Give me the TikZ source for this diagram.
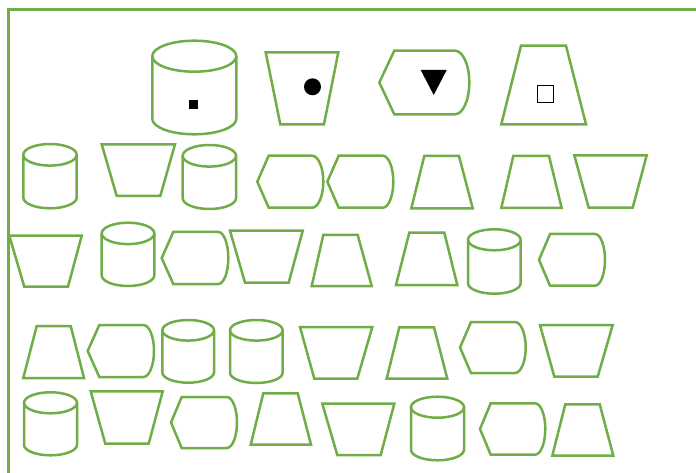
\documentclass[tikz,border=0pt]{standalone}
\definecolor{shgreen}{RGB}{112,173,71}
\tikzset{shape line/.style={draw=shgreen, line width=2.5pt, line join=miter}}
% cylinder: x1 x2 ytop ybottom ry
\newcommand\cylsh[5]{%
  \pgfmathsetmacro\cx{(#1+#2)/2}\pgfmathsetmacro\rx{(#2-#1)/2}%
  \pgfmathsetmacro\ya{#3+#5}\pgfmathsetmacro\yb{#4-#5}%
  \draw[shape line] (\cx,\ya) ellipse [x radius=\rx pt, y radius=#5pt];
  \draw[shape line] (#1,\ya) -- (#1,\yb) arc[start angle=180, end angle=360, x radius=\rx pt, y radius=#5pt] -- (#2,\ya);}
% display: xleft xcorner xstraight xright ytop ybottom
\newcommand\dispsh[6]{%
  \pgfmathsetmacro\ym{(#5+#6)/2}\pgfmathsetmacro\rx{#4-#3}\pgfmathsetmacro\ry{(#6-#5)/2}%
  \draw[shape line] (#1,\ym) -- (#2,#5) -- (#3,#5) arc[start angle=90, end angle=-90, x radius=\rx pt, y radius=\ry pt] -- (#2,#6) -- cycle;}
% trapezoid: top x1 x2, ytop, bottom x1 x2, ybottom
\newcommand\trapsh[6]{%
  \draw[shape line] (#1,#3) -- (#2,#3) -- (#5,#6) -- (#4,#6) -- cycle;}
\begin{document}
\begin{tikzpicture}[x=1pt,y=-1pt]
\useasboundingbox (0,0) rectangle (696,473);
\fill[white] (0,0) rectangle (696,473);
% frame
\draw[draw=shgreen, line width=2.4pt] (8.3,480) -- (8.3,9.5) -- (700,9.5);
% row 1
\cylsh{152.3}{236.3}{40.7}{134.3}{15.5}
\fill[black] (189,100) rectangle (198,109);
\trapsh{265.7}{338.3}{52.3}{280.3}{324}{124.3}
\fill[black] (312.5,86.8) circle[radius=8.5pt];
\dispsh{379.3}{394.3}{455}{469.3}{50.7}{114.3}
\fill[black] (420.7,70) -- (446.7,70) -- (433.7,95) -- cycle;
\trapsh{521}{566}{45.7}{501.3}{586}{124.3}
\draw[black, line width=1.4pt] (537.4,85.4) rectangle (553.6,102.3);
% row 2
\cylsh{23.3}{76.7}{144}{208.3}{10.8}
\trapsh{101.7}{175}{144.3}{116.7}{160.3}{196}
\cylsh{182.7}{236}{145}{209}{10.8}
\dispsh{257.3}{268.7}{312}{323.3}{155.7}{207.7}
\dispsh{327.3}{338.7}{382.7}{393.3}{155.7}{207.7}
\trapsh{424.3}{459}{156}{411.3}{472.7}{208.3}
\trapsh{513.3}{549}{156}{501.3}{561.7}{208}
\trapsh{574.3}{646.7}{155.3}{588.7}{632.7}{207.7}
% row 3
\trapsh{9.3}{81.7}{235.7}{24.3}{68}{286.7}
\cylsh{101.7}{154.3}{222.7}{286}{10.7}
\dispsh{161.7}{173.3}{218.3}{228.3}{232}{284}
\trapsh{230}{302.7}{230.7}{245}{288.7}{282.7}
\trapsh{323.3}{357.7}{235}{311.7}{371.7}{286}
\trapsh{409.3}{444.3}{232.7}{396}{457.3}{285}
\cylsh{468}{520.7}{229.3}{293.7}{10.5}
\dispsh{539}{550}{595}{605}{234}{285.7}
% row 4
\trapsh{36.7}{70.7}{326}{23.3}{84}{378}
\dispsh{87.7}{99.3}{143.3}{154}{325}{377}
\cylsh{162.3}{214}{320}{382.7}{10.3}
\cylsh{230}{282.7}{320}{383}{10.3}
\trapsh{300}{372.3}{327}{314.3}{357.3}{378.7}
\trapsh{399.3}{434}{327.3}{386.7}{447.3}{378.7}
\dispsh{460}{471}{515}{525.7}{322}{373}
\trapsh{540}{612.7}{325}{554.3}{597.7}{376.7}
% row 5
\cylsh{24}{77}{392.3}{455.3}{10.5}
\trapsh{90.7}{162.7}{391.3}{105.3}{148.7}{443.7}
\dispsh{171}{181.7}{226.7}{237}{397}{448}
\trapsh{263.3}{297.7}{393.3}{250.7}{311}{444.7}
\trapsh{322.3}{394.3}{403.7}{337.3}{380.7}{455}
\cylsh{411}{464}{396.7}{460.3}{10.5}
\dispsh{480}{490.7}{535}{545.3}{403.3}{454.7}
\trapsh{565.3}{599.7}{404.3}{552.3}{613.3}{455.7}
\end{tikzpicture}
\end{document}
